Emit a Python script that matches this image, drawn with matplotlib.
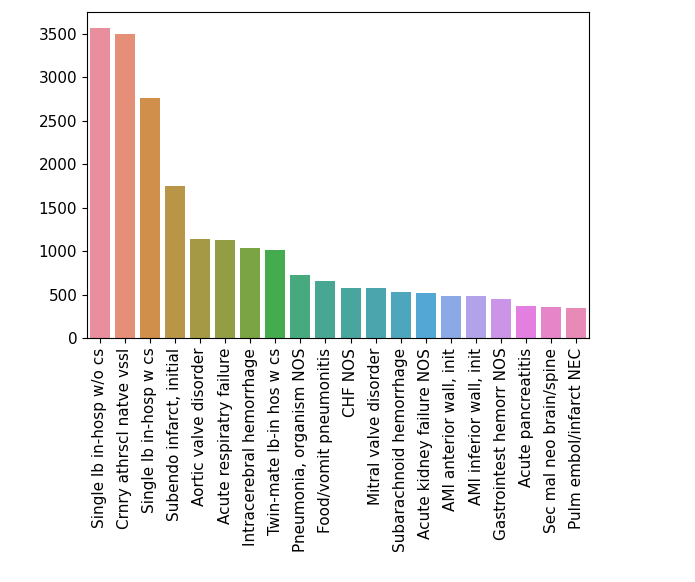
import matplotlib
matplotlib.use("Agg")
import matplotlib.pyplot as plt
import seaborn as sns

diagnoses = [
    "Single lb in-hosp w/o cs", "Crnry athrscl natve vssl", "Single lb in-hosp w cs",
    "Subendo infarct, initial", "Aortic valve disorder", "Acute respiratry failure",
    "Intracerebral hemorrhage", "Twin-mate lb-in hos w cs", "Pneumonia, organism NOS",
    "Food/vomit pneumonitis", "CHF NOS", "Mitral valve disorder",
    "Subarachnoid hemorrhage", "Acute kidney failure NOS", "AMI anterior wall, init",
    "AMI inferior wall, init", "Gastrointest hemorr NOS", "Acute pancreatitis",
    "Sec mal neo brain/spine", "Pulm embol/infarct NEC",
]
counts = [3570, 3500, 2764, 1748, 1142, 1127, 1039, 1008, 728, 659,
          575, 572, 525, 523, 487, 485, 452, 364, 362, 345]

# husl palette, a touch lighter, desaturated like old seaborn bars
colors = sns.husl_palette(len(diagnoses), l=0.68)
colors = [sns.desaturate(c, 0.75) for c in colors]

fig = plt.figure(figsize=(6.95, 5.82), dpi=100)
ax = fig.add_axes([87 / 695, 1 - 338 / 582, (589 - 87) / 695, (338 - 12) / 582])

sns.barplot(x=diagnoses, y=counts, hue=diagnoses, palette=colors,
            saturation=1, legend=False, ax=ax)
ax.tick_params(axis="x", rotation=90)
ax.tick_params(labelsize=11)

fig.savefig("out.png", dpi=100)
